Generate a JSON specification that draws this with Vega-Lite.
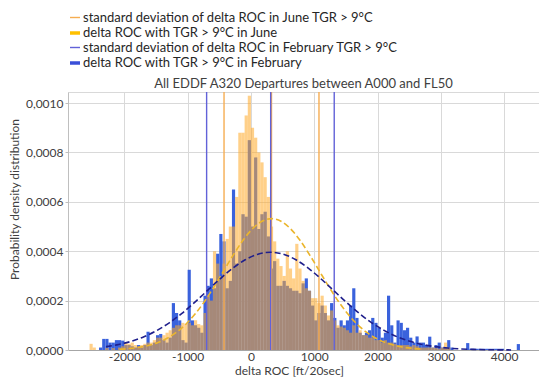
{
  "$schema": "https://vega.github.io/schema/vega-lite/v6.json",
  "autosize": "none",
  "width": 471,
  "height": 258,
  "padding": {"left": 68, "top": 92, "right": 0, "bottom": 30},
  "background": "white",
  "title": {
    "text": "All EDDF A320 Departures between A000 and FL50",
    "font": "Lato",
    "fontSize": 13,
    "fontWeight": "normal",
    "color": "#404040",
    "offset": 3,
    "dy": 83
  },
  "config": {
    "view": {"stroke": "#D9D9D9"},
    "axis": {
      "labelFont": "Lato",
      "titleFont": "Lato",
      "labelColor": "#404040",
      "titleColor": "#404040",
      "titleFontWeight": "normal",
      "gridColor": "#D9D9D9"
    }
  },
  "datasets": {
    "hist": [
      {"lo": -2550, "hi": -2500, "jun": 0.000025, "feb": 0},
      {"lo": -2500, "hi": -2450, "jun": 0.00001, "feb": 0},
      {"lo": -2400, "hi": -2350, "jun": 0, "feb": 0.00001},
      {"lo": -2350, "hi": -2300, "jun": 0, "feb": 0.000045},
      {"lo": -2300, "hi": -2250, "jun": 0.000008, "feb": 0.000045},
      {"lo": -2250, "hi": -2200, "jun": 0, "feb": 0.00003},
      {"lo": -2200, "hi": -2150, "jun": 0.000008, "feb": 0.00003},
      {"lo": -2150, "hi": -2100, "jun": 0, "feb": 0.00004},
      {"lo": -2100, "hi": -2050, "jun": 0.00001, "feb": 0.00004},
      {"lo": -2050, "hi": -2000, "jun": 0.000015, "feb": 0.000038},
      {"lo": -2000, "hi": -1950, "jun": 0.00003, "feb": 0.00002},
      {"lo": -1950, "hi": -1900, "jun": 0.000025, "feb": 0.00002},
      {"lo": -1900, "hi": -1850, "jun": 0.00003, "feb": 0.000015},
      {"lo": -1850, "hi": -1800, "jun": 0.00002, "feb": 0.00001},
      {"lo": -1800, "hi": -1750, "jun": 0.000015, "feb": 0.00002},
      {"lo": -1750, "hi": -1700, "jun": 0.00002, "feb": 0.00001},
      {"lo": -1700, "hi": -1650, "jun": 0.000025, "feb": 0.00002},
      {"lo": -1650, "hi": -1600, "jun": 0.00003, "feb": 0.000074},
      {"lo": -1600, "hi": -1550, "jun": 0.00003, "feb": 0.00002},
      {"lo": -1550, "hi": -1500, "jun": 0.00004, "feb": 0.00003},
      {"lo": -1500, "hi": -1450, "jun": 0.00005, "feb": 0.00006},
      {"lo": -1450, "hi": -1400, "jun": 0.00005, "feb": 0.000065},
      {"lo": -1400, "hi": -1350, "jun": 0.00006, "feb": 0.00004},
      {"lo": -1350, "hi": -1300, "jun": 0.00007, "feb": 0.00003},
      {"lo": -1300, "hi": -1250, "jun": 0.00008, "feb": 0.00005},
      {"lo": -1250, "hi": -1200, "jun": 0.00009, "feb": 0.00019},
      {"lo": -1200, "hi": -1150, "jun": 0.0001, "feb": 0.00015},
      {"lo": -1150, "hi": -1100, "jun": 0.0001, "feb": 0.00012},
      {"lo": -1100, "hi": -1050, "jun": 0.00011, "feb": 0.00004},
      {"lo": -1050, "hi": -1000, "jun": 0.000105, "feb": 0.00003},
      {"lo": -1000, "hi": -950, "jun": 0.00011, "feb": 0.000325},
      {"lo": -950, "hi": -900, "jun": 0.0001, "feb": 0.00012},
      {"lo": -900, "hi": -850, "jun": 0.00012, "feb": 0.0001},
      {"lo": -850, "hi": -800, "jun": 0.000105, "feb": 0.00009},
      {"lo": -800, "hi": -750, "jun": 0.0001, "feb": 0.00007},
      {"lo": -750, "hi": -700, "jun": 0.00015, "feb": 0.00022},
      {"lo": -700, "hi": -650, "jun": 0.00022, "feb": 0.00026},
      {"lo": -650, "hi": -600, "jun": 0.0002, "feb": 0.00029},
      {"lo": -600, "hi": -550, "jun": 0.0004, "feb": 0.00025},
      {"lo": -550, "hi": -500, "jun": 0.00035, "feb": 0.00039},
      {"lo": -500, "hi": -450, "jun": 0.00029, "feb": 0.00047},
      {"lo": -450, "hi": -400, "jun": 0.00035, "feb": 0.00044},
      {"lo": -400, "hi": -350, "jun": 0.00045, "feb": 0.00025},
      {"lo": -350, "hi": -300, "jun": 0.0005, "feb": 0.00028},
      {"lo": -300, "hi": -250, "jun": 0.0005, "feb": 0.00065},
      {"lo": -250, "hi": -200, "jun": 0.00062, "feb": 0.00035},
      {"lo": -200, "hi": -150, "jun": 0.00088, "feb": 0.0004},
      {"lo": -150, "hi": -100, "jun": 0.00088, "feb": 0.00055},
      {"lo": -100, "hi": -50, "jun": 0.00095, "feb": 0.00054},
      {"lo": -50, "hi": 0, "jun": 0.00103, "feb": 0.00085},
      {"lo": 0, "hi": 50, "jun": 0.0009, "feb": 0.0005},
      {"lo": 50, "hi": 100, "jun": 0.00086, "feb": 0.00078},
      {"lo": 100, "hi": 150, "jun": 0.0008, "feb": 0.00049},
      {"lo": 150, "hi": 200, "jun": 0.00076, "feb": 0.00055},
      {"lo": 200, "hi": 250, "jun": 0.0007, "feb": 0.00056},
      {"lo": 250, "hi": 300, "jun": 0.00062, "feb": 0.00046},
      {"lo": 300, "hi": 350, "jun": 0.0005, "feb": 0.00033},
      {"lo": 350, "hi": 400, "jun": 0.00044, "feb": 0.00036},
      {"lo": 400, "hi": 450, "jun": 0.00037, "feb": 0.00026},
      {"lo": 450, "hi": 500, "jun": 0.00034, "feb": 0.00026},
      {"lo": 500, "hi": 550, "jun": 0.0003, "feb": 0.00028},
      {"lo": 550, "hi": 600, "jun": 0.0004, "feb": 0.00026},
      {"lo": 600, "hi": 650, "jun": 0.00033, "feb": 0.00025},
      {"lo": 650, "hi": 700, "jun": 0.00029, "feb": 0.00024},
      {"lo": 700, "hi": 750, "jun": 0.00043, "feb": 0.00024},
      {"lo": 750, "hi": 800, "jun": 0.00033, "feb": 0.00023},
      {"lo": 800, "hi": 850, "jun": 0.00028, "feb": 0.00027},
      {"lo": 850, "hi": 900, "jun": 0.00025, "feb": 0.00029},
      {"lo": 900, "hi": 950, "jun": 0.00024, "feb": 0.00024},
      {"lo": 950, "hi": 1000, "jun": 0.00021, "feb": 0.00018},
      {"lo": 1000, "hi": 1050, "jun": 0.00021, "feb": 0.00012},
      {"lo": 1050, "hi": 1100, "jun": 0.00019, "feb": 0.00015},
      {"lo": 1100, "hi": 1150, "jun": 0.00022, "feb": 0.00018},
      {"lo": 1150, "hi": 1200, "jun": 0.00018, "feb": 0.00015},
      {"lo": 1200, "hi": 1250, "jun": 0.00014, "feb": 0.00012},
      {"lo": 1250, "hi": 1300, "jun": 0.00016, "feb": 0.00019},
      {"lo": 1300, "hi": 1350, "jun": 0.00012, "feb": 0.00013},
      {"lo": 1350, "hi": 1400, "jun": 0.0001, "feb": 0.00009},
      {"lo": 1400, "hi": 1450, "jun": 0.000095, "feb": 0.00012},
      {"lo": 1450, "hi": 1500, "jun": 0.00009, "feb": 0.0001},
      {"lo": 1500, "hi": 1550, "jun": 0.00008, "feb": 0.00012},
      {"lo": 1550, "hi": 1600, "jun": 0.00007, "feb": 0.00018},
      {"lo": 1600, "hi": 1650, "jun": 0.0001, "feb": 0.00025},
      {"lo": 1650, "hi": 1700, "jun": 0.00007, "feb": 0.00013},
      {"lo": 1700, "hi": 1750, "jun": 0.00008, "feb": 0.00007},
      {"lo": 1750, "hi": 1800, "jun": 0.00006, "feb": 0.00006},
      {"lo": 1800, "hi": 1850, "jun": 0.00006, "feb": 0.00007},
      {"lo": 1850, "hi": 1900, "jun": 0.00005, "feb": 0.00008},
      {"lo": 1900, "hi": 1950, "jun": 0.00005, "feb": 0.00013},
      {"lo": 1950, "hi": 2000, "jun": 0.00004, "feb": 0.00011},
      {"lo": 2000, "hi": 2050, "jun": 0.00004, "feb": 0.00009},
      {"lo": 2050, "hi": 2100, "jun": 0.00003, "feb": 0.00005},
      {"lo": 2100, "hi": 2150, "jun": 0.00004, "feb": 0.00007},
      {"lo": 2150, "hi": 2200, "jun": 0.00003, "feb": 0.00022},
      {"lo": 2200, "hi": 2250, "jun": 0.00003, "feb": 0.0001},
      {"lo": 2250, "hi": 2300, "jun": 0.000025, "feb": 0.00003},
      {"lo": 2300, "hi": 2350, "jun": 0.00002, "feb": 0.00012},
      {"lo": 2350, "hi": 2400, "jun": 0.00002, "feb": 0.00011},
      {"lo": 2400, "hi": 2450, "jun": 0.00002, "feb": 0.00008},
      {"lo": 2450, "hi": 2500, "jun": 0.00002, "feb": 0.00009},
      {"lo": 2500, "hi": 2550, "jun": 0.000015, "feb": 0.00005},
      {"lo": 2550, "hi": 2600, "jun": 0.00002, "feb": 0.00003},
      {"lo": 2600, "hi": 2650, "jun": 0.000015, "feb": 0.000055},
      {"lo": 2650, "hi": 2700, "jun": 0.00001, "feb": 0.00003},
      {"lo": 2700, "hi": 2750, "jun": 0.00001, "feb": 0.00003},
      {"lo": 2750, "hi": 2800, "jun": 0.00001, "feb": 0.00002},
      {"lo": 2800, "hi": 2850, "jun": 0.00001, "feb": 0.000054},
      {"lo": 2850, "hi": 2900, "jun": 0.00001, "feb": 0.00001},
      {"lo": 2900, "hi": 2950, "jun": 0.000008, "feb": 0.00002},
      {"lo": 2950, "hi": 3000, "jun": 0.000005, "feb": 0.00003},
      {"lo": 3000, "hi": 3050, "jun": 0.00001, "feb": 0.00001},
      {"lo": 3050, "hi": 3100, "jun": 0.00003, "feb": 0.00001},
      {"lo": 3100, "hi": 3150, "jun": 0.00001, "feb": 0.00004},
      {"lo": 3150, "hi": 3200, "jun": 0, "feb": 0.00001},
      {"lo": 3400, "hi": 3450, "jun": 0, "feb": 0.000028},
      {"lo": 3450, "hi": 3500, "jun": 0, "feb": 0.000005},
      {"lo": 3500, "hi": 3550, "jun": 0, "feb": 0.000005},
      {"lo": 3550, "hi": 3600, "jun": 0, "feb": 0.000005},
      {"lo": 3600, "hi": 3650, "jun": 0, "feb": 0.000005},
      {"lo": 3650, "hi": 3700, "jun": 0, "feb": 0.000005},
      {"lo": 3700, "hi": 3750, "jun": 0, "feb": 0.000005},
      {"lo": 3750, "hi": 3800, "jun": 0, "feb": 0.000005},
      {"lo": 3800, "hi": 3850, "jun": 0, "feb": 0.000005},
      {"lo": 3850, "hi": 3900, "jun": 0, "feb": 0.000005},
      {"lo": 3900, "hi": 3950, "jun": 0, "feb": 0.000005},
      {"lo": 3950, "hi": 4000, "jun": 0, "feb": 0.000005},
      {"lo": 4200, "hi": 4250, "jun": 0, "feb": 0.000024}
    ],
    "marks": [
      {"series": "standard deviation of delta ROC in June TGR > 9°C", "roc": -425},
      {"series": "standard deviation of delta ROC in June TGR > 9°C", "roc": 325},
      {"series": "standard deviation of delta ROC in June TGR > 9°C", "roc": 1075},
      {"series": "standard deviation of delta ROC in February TGR > 9°C", "roc": -700},
      {"series": "standard deviation of delta ROC in February TGR > 9°C", "roc": 312},
      {"series": "standard deviation of delta ROC in February TGR > 9°C", "roc": 1316}
    ],
    "fitJune": [
      {"roc": -2075, "pdf": 0.0000032}, {"roc": -1925, "pdf": 0.0000059},
      {"roc": -1775, "pdf": 0.0000105}, {"roc": -1625, "pdf": 0.0000181},
      {"roc": -1475, "pdf": 0.0000298}, {"roc": -1325, "pdf": 0.0000473},
      {"roc": -1175, "pdf": 0.0000720}, {"roc": -1025, "pdf": 0.0001053},
      {"roc": -875, "pdf": 0.0001479}, {"roc": -725, "pdf": 0.0001997},
      {"roc": -575, "pdf": 0.0002590}, {"roc": -425, "pdf": 0.0003227},
      {"roc": -275, "pdf": 0.0003863}, {"roc": -125, "pdf": 0.0004444},
      {"roc": 25, "pdf": 0.0004911}, {"roc": 175, "pdf": 0.0005215},
      {"roc": 325, "pdf": 0.000532}, {"roc": 475, "pdf": 0.0005215},
      {"roc": 625, "pdf": 0.0004911}, {"roc": 775, "pdf": 0.0004444},
      {"roc": 925, "pdf": 0.0003863}, {"roc": 1075, "pdf": 0.0003227},
      {"roc": 1225, "pdf": 0.0002590}, {"roc": 1375, "pdf": 0.0001997},
      {"roc": 1525, "pdf": 0.0001479}, {"roc": 1675, "pdf": 0.0001053},
      {"roc": 1825, "pdf": 0.0000720}, {"roc": 1975, "pdf": 0.0000473},
      {"roc": 2125, "pdf": 0.0000298}, {"roc": 2275, "pdf": 0.0000181},
      {"roc": 2425, "pdf": 0.0000105}, {"roc": 2575, "pdf": 0.0000059},
      {"roc": 2725, "pdf": 0.0000032}
    ],
    "fitFeb": [
      {"roc": -2290, "pdf": 0.0000135}, {"roc": -2090, "pdf": 0.0000222},
      {"roc": -1890, "pdf": 0.0000352}, {"roc": -1690, "pdf": 0.0000536},
      {"roc": -1490, "pdf": 0.0000784}, {"roc": -1290, "pdf": 0.0001101},
      {"roc": -1090, "pdf": 0.0001486}, {"roc": -890, "pdf": 0.0001928},
      {"roc": -690, "pdf": 0.0002402}, {"roc": -490, "pdf": 0.0002875},
      {"roc": -290, "pdf": 0.0003308}, {"roc": -90, "pdf": 0.0003655},
      {"roc": 110, "pdf": 0.0003882}, {"roc": 310, "pdf": 0.000396},
      {"roc": 510, "pdf": 0.0003882}, {"roc": 710, "pdf": 0.0003655},
      {"roc": 910, "pdf": 0.0003308}, {"roc": 1110, "pdf": 0.0002875},
      {"roc": 1310, "pdf": 0.0002402}, {"roc": 1510, "pdf": 0.0001928},
      {"roc": 1710, "pdf": 0.0001486}, {"roc": 1910, "pdf": 0.0001101},
      {"roc": 2110, "pdf": 0.0000784}, {"roc": 2310, "pdf": 0.0000536},
      {"roc": 2510, "pdf": 0.0000352}, {"roc": 2710, "pdf": 0.0000222},
      {"roc": 2910, "pdf": 0.0000135}, {"roc": 3110, "pdf": 0.0000078},
      {"roc": 3310, "pdf": 0.0000044}, {"roc": 3510, "pdf": 0.0000024},
      {"roc": 3710, "pdf": 0.0000012}, {"roc": 3910, "pdf": 0.0000006},
      {"roc": 4110, "pdf": 0.0000003}
    ]
  },
  "layer": [
    {
      "data": {"name": "hist"},
      "mark": {"type": "rect", "fill": "#3A62DC"},
      "encoding": {
        "x": {
          "field": "lo", "type": "quantitative",
          "scale": {"domain": [-2890, 4551], "nice": false, "zero": false},
          "axis": {
            "orient": "bottom",
            "title": "delta ROC [ft/20sec]",
            "values": [-2000, -1000, 0, 1000, 2000, 3000, 4000],
            "labelExpr": "'' + datum.value",
            "labelFontSize": 12,
            "labelPadding": 1,
            "ticks": false,
            "domainColor": "#A6A6A6",
            "titleFontSize": 12,
            "titlePadding": 3,
            "titleX": 221
          }
        },
        "x2": {"field": "hi"},
        "y": {
          "field": "feb", "type": "quantitative",
          "scale": {"domain": [0, 0.001045], "nice": false},
          "axis": {
            "orient": "left",
            "title": "Probability density distribution",
            "values": [0, 0.0002, 0.0004, 0.0006, 0.0008, 0.001],
            "labelExpr": "replace(format(datum.value, '.4f'), '.', ',')",
            "labelFontSize": 12,
            "labelPadding": 2,
            "tickSize": 3,
            "tickColor": "#BFBFBF",
            "domainColor": "#BFBFBF",
            "titleFontSize": 12,
            "titleY": 107
          }
        },
        "y2": {"datum": 0}
      }
    },
    {
      "data": {"name": "hist"},
      "mark": {"type": "rect", "fill": "#FFA928", "opacity": 0.55},
      "encoding": {
        "x": {"field": "lo", "type": "quantitative"},
        "x2": {"field": "hi"},
        "y": {"field": "jun", "type": "quantitative"},
        "y2": {"datum": 0}
      }
    },
    {
      "data": {"name": "marks"},
      "mark": {"type": "rule"},
      "encoding": {
        "x": {"field": "roc", "type": "quantitative"},
        "color": {
          "field": "series", "type": "nominal",
          "scale": {
            "domain": [
              "standard deviation of delta ROC in June TGR > 9°C",
              "delta ROC with TGR > 9°C in June",
              "standard deviation of delta ROC in February TGR > 9°C",
              "delta ROC with TGR > 9°C in February"
            ],
            "range": ["#F6AD52", "#FFC000", "#6262D8", "#3A4FD8"]
          },
          "legend": {
            "title": null,
            "orient": "none",
            "legendX": 0,
            "legendY": -81,
            "padding": 0,
            "symbolType": "stroke",
            "symbolSize": 100,
            "labelFont": "Lato",
            "labelFontSize": 13,
            "labelColor": "#262626",
            "labelOffset": 1,
            "labelLimit": 450,
            "rowPadding": 1
          }
        },
        "strokeWidth": {
          "field": "series", "type": "nominal",
          "scale": {
            "type": "ordinal",
            "domain": [
              "standard deviation of delta ROC in June TGR > 9°C",
              "delta ROC with TGR > 9°C in June",
              "standard deviation of delta ROC in February TGR > 9°C",
              "delta ROC with TGR > 9°C in February"
            ],
            "range": [1.4, 3.5, 1.4, 3.5]
          },
          "legend": {
            "title": null,
            "orient": "none",
            "legendX": 0,
            "legendY": -81,
            "padding": 0,
            "symbolType": "stroke",
            "symbolSize": 100,
            "labelFont": "Lato",
            "labelFontSize": 13,
            "labelColor": "#262626",
            "labelOffset": 1,
            "labelLimit": 450,
            "rowPadding": 1
          }
        }
      }
    },
    {
      "data": {"name": "fitJune"},
      "mark": {"type": "line", "color": "#EBB52C", "strokeWidth": 1.6, "strokeDash": [6, 3], "interpolate": "monotone"},
      "encoding": {
        "x": {"field": "roc", "type": "quantitative"},
        "y": {"field": "pdf", "type": "quantitative"}
      }
    },
    {
      "data": {"name": "fitFeb"},
      "mark": {"type": "line", "color": "#1F1F8C", "strokeWidth": 1.6, "strokeDash": [6, 3], "interpolate": "monotone"},
      "encoding": {
        "x": {"field": "roc", "type": "quantitative"},
        "y": {"field": "pdf", "type": "quantitative"}
      }
    }
  ]
}
